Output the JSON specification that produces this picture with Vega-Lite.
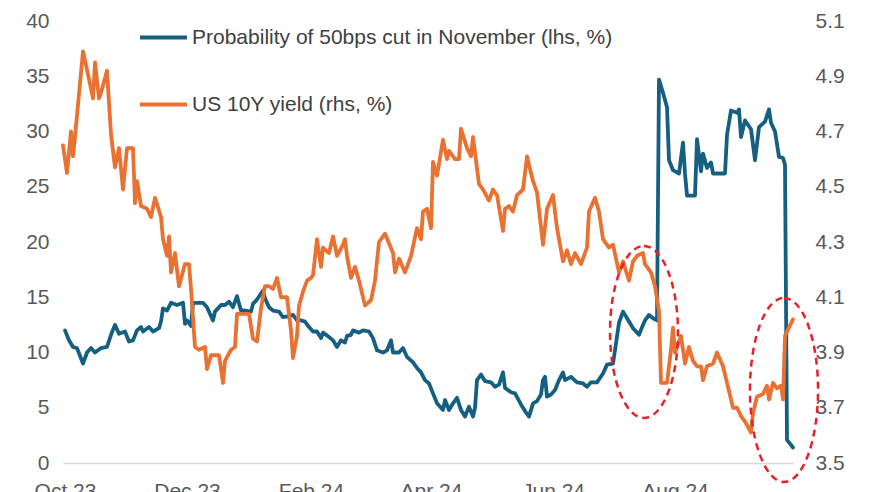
{
  "$schema": "https://vega.github.io/schema/vega-lite/v6.json",
  "width": 730,
  "height": 442,
  "autosize": {"type": "none"},
  "padding": {"left": 63, "top": 21, "right": 77, "bottom": 29},
  "background": "white",
  "config": {
    "view": {"stroke": null},
    "font": "Liberation Sans",
    "axis": {"labelFont": "Liberation Sans", "labelFontSize": 21, "labelColor": "#595959", "grid": false, "ticks": false, "domain": false, "title": null}
  },
  "datasets": {
    "prob": [
      {"date": "2023-10-01", "v": 12.0}, {"date": "2023-10-03", "v": 11.1}, {"date": "2023-10-05", "v": 10.5}, {"date": "2023-10-07", "v": 10.4},
      {"date": "2023-10-10", "v": 9.0}, {"date": "2023-10-12", "v": 10.0}, {"date": "2023-10-14", "v": 10.4}, {"date": "2023-10-16", "v": 10.0},
      {"date": "2023-10-19", "v": 10.4}, {"date": "2023-10-22", "v": 10.5}, {"date": "2023-10-24", "v": 11.6}, {"date": "2023-10-26", "v": 12.5},
      {"date": "2023-10-28", "v": 11.7}, {"date": "2023-10-31", "v": 11.9}, {"date": "2023-11-02", "v": 11.0}, {"date": "2023-11-04", "v": 11.1},
      {"date": "2023-11-06", "v": 12.0}, {"date": "2023-11-08", "v": 12.3}, {"date": "2023-11-09", "v": 11.9}, {"date": "2023-11-12", "v": 12.3},
      {"date": "2023-11-14", "v": 11.9}, {"date": "2023-11-17", "v": 12.2}, {"date": "2023-11-18", "v": 12.8}, {"date": "2023-11-19", "v": 14.0},
      {"date": "2023-11-21", "v": 13.8}, {"date": "2023-11-23", "v": 14.5}, {"date": "2023-11-26", "v": 14.3}, {"date": "2023-11-29", "v": 14.5},
      {"date": "2023-11-30", "v": 12.6}, {"date": "2023-12-01", "v": 12.9}, {"date": "2023-12-03", "v": 12.4}, {"date": "2023-12-04", "v": 14.5},
      {"date": "2023-12-09", "v": 14.5}, {"date": "2023-12-11", "v": 14.1}, {"date": "2023-12-14", "v": 12.9}, {"date": "2023-12-15", "v": 13.7},
      {"date": "2023-12-18", "v": 14.3}, {"date": "2023-12-20", "v": 14.3}, {"date": "2023-12-22", "v": 14.6}, {"date": "2023-12-24", "v": 14.1},
      {"date": "2023-12-26", "v": 15.1}, {"date": "2023-12-28", "v": 13.8}, {"date": "2023-12-30", "v": 13.8}, {"date": "2024-01-02", "v": 13.7},
      {"date": "2024-01-03", "v": 14.4}, {"date": "2024-01-05", "v": 14.8}, {"date": "2024-01-08", "v": 15.6}, {"date": "2024-01-09", "v": 14.9},
      {"date": "2024-01-11", "v": 14.1}, {"date": "2024-01-13", "v": 13.8}, {"date": "2024-01-16", "v": 13.7}, {"date": "2024-01-18", "v": 13.2},
      {"date": "2024-01-21", "v": 13.3}, {"date": "2024-01-23", "v": 13.4}, {"date": "2024-01-25", "v": 12.9}, {"date": "2024-01-27", "v": 12.9},
      {"date": "2024-01-29", "v": 12.8}, {"date": "2024-01-31", "v": 12.3}, {"date": "2024-02-02", "v": 11.9}, {"date": "2024-02-04", "v": 11.9},
      {"date": "2024-02-06", "v": 11.3}, {"date": "2024-02-07", "v": 11.8}, {"date": "2024-02-10", "v": 11.4}, {"date": "2024-02-12", "v": 11.1},
      {"date": "2024-02-14", "v": 10.5}, {"date": "2024-02-16", "v": 11.1}, {"date": "2024-02-18", "v": 10.9}, {"date": "2024-02-19", "v": 11.5},
      {"date": "2024-02-21", "v": 11.6}, {"date": "2024-02-22", "v": 12.0}, {"date": "2024-02-25", "v": 11.8}, {"date": "2024-02-27", "v": 12.0},
      {"date": "2024-03-01", "v": 11.9}, {"date": "2024-03-03", "v": 11.3}, {"date": "2024-03-05", "v": 10.2}, {"date": "2024-03-08", "v": 10.0},
      {"date": "2024-03-10", "v": 10.2}, {"date": "2024-03-12", "v": 11.1}, {"date": "2024-03-13", "v": 10.0}, {"date": "2024-03-16", "v": 10.0},
      {"date": "2024-03-18", "v": 10.4}, {"date": "2024-03-20", "v": 9.6}, {"date": "2024-03-23", "v": 9.1}, {"date": "2024-03-25", "v": 8.6},
      {"date": "2024-03-27", "v": 8.2}, {"date": "2024-03-29", "v": 7.5}, {"date": "2024-03-31", "v": 7.2}, {"date": "2024-04-02", "v": 6.3},
      {"date": "2024-04-04", "v": 5.4}, {"date": "2024-04-07", "v": 4.8}, {"date": "2024-04-08", "v": 5.7}, {"date": "2024-04-10", "v": 4.8},
      {"date": "2024-04-12", "v": 5.4}, {"date": "2024-04-14", "v": 5.9}, {"date": "2024-04-16", "v": 4.8}, {"date": "2024-04-18", "v": 4.2},
      {"date": "2024-04-20", "v": 5.1}, {"date": "2024-04-22", "v": 4.2}, {"date": "2024-04-23", "v": 5.0}, {"date": "2024-04-24", "v": 7.5},
      {"date": "2024-04-26", "v": 8.0}, {"date": "2024-04-28", "v": 7.4}, {"date": "2024-05-01", "v": 7.3}, {"date": "2024-05-03", "v": 6.9},
      {"date": "2024-05-05", "v": 7.1}, {"date": "2024-05-07", "v": 8.2}, {"date": "2024-05-08", "v": 6.8}, {"date": "2024-05-11", "v": 6.4},
      {"date": "2024-05-13", "v": 6.3}, {"date": "2024-05-16", "v": 5.3}, {"date": "2024-05-18", "v": 4.7}, {"date": "2024-05-20", "v": 4.2},
      {"date": "2024-05-22", "v": 5.4}, {"date": "2024-05-24", "v": 5.6}, {"date": "2024-05-26", "v": 6.2}, {"date": "2024-05-27", "v": 7.5},
      {"date": "2024-05-28", "v": 7.8}, {"date": "2024-05-29", "v": 6.0}, {"date": "2024-05-31", "v": 6.2}, {"date": "2024-06-02", "v": 6.6},
      {"date": "2024-06-04", "v": 7.5}, {"date": "2024-06-06", "v": 8.2}, {"date": "2024-06-07", "v": 7.5}, {"date": "2024-06-10", "v": 7.8},
      {"date": "2024-06-13", "v": 7.3}, {"date": "2024-06-16", "v": 7.2}, {"date": "2024-06-18", "v": 6.9}, {"date": "2024-06-20", "v": 7.3},
      {"date": "2024-06-23", "v": 7.3}, {"date": "2024-06-26", "v": 8.1}, {"date": "2024-06-28", "v": 8.9}, {"date": "2024-07-01", "v": 9.0},
      {"date": "2024-07-02", "v": 10.2}, {"date": "2024-07-04", "v": 12.7}, {"date": "2024-07-06", "v": 13.7}, {"date": "2024-07-09", "v": 12.8},
      {"date": "2024-07-11", "v": 12.2}, {"date": "2024-07-14", "v": 11.6}, {"date": "2024-07-16", "v": 12.5}, {"date": "2024-07-17", "v": 12.9},
      {"date": "2024-07-19", "v": 13.4}, {"date": "2024-07-21", "v": 13.1}, {"date": "2024-07-23", "v": 12.9}, {"date": "2024-07-24", "v": 34.7},
      {"date": "2024-07-26", "v": 33.5}, {"date": "2024-07-28", "v": 32.2}, {"date": "2024-07-29", "v": 27.4}, {"date": "2024-07-31", "v": 26.5},
      {"date": "2024-08-03", "v": 26.2}, {"date": "2024-08-05", "v": 29.0}, {"date": "2024-08-06", "v": 26.2}, {"date": "2024-08-07", "v": 24.2},
      {"date": "2024-08-11", "v": 24.2}, {"date": "2024-08-12", "v": 29.3}, {"date": "2024-08-14", "v": 26.4}, {"date": "2024-08-15", "v": 28.0},
      {"date": "2024-08-17", "v": 26.7}, {"date": "2024-08-19", "v": 27.2}, {"date": "2024-08-20", "v": 26.2}, {"date": "2024-08-26", "v": 26.2},
      {"date": "2024-08-27", "v": 29.7}, {"date": "2024-08-29", "v": 31.9}, {"date": "2024-09-01", "v": 31.7}, {"date": "2024-09-02", "v": 32.0},
      {"date": "2024-09-03", "v": 29.5}, {"date": "2024-09-05", "v": 31.0}, {"date": "2024-09-08", "v": 30.2}, {"date": "2024-09-10", "v": 27.4},
      {"date": "2024-09-12", "v": 30.4}, {"date": "2024-09-15", "v": 30.9}, {"date": "2024-09-17", "v": 32.0}, {"date": "2024-09-18", "v": 30.8},
      {"date": "2024-09-20", "v": 30.0}, {"date": "2024-09-22", "v": 27.7}, {"date": "2024-09-24", "v": 27.6}, {"date": "2024-09-25", "v": 27.0},
      {"date": "2024-09-26", "v": 2.1}, {"date": "2024-09-29", "v": 1.4}
    ],
    "yld": [
      {"date": "2023-09-30", "v": 4.65}, {"date": "2023-10-02", "v": 4.55}, {"date": "2023-10-04", "v": 4.70}, {"date": "2023-10-05", "v": 4.61},
      {"date": "2023-10-06", "v": 4.68}, {"date": "2023-10-10", "v": 4.99}, {"date": "2023-10-13", "v": 4.89}, {"date": "2023-10-15", "v": 4.82},
      {"date": "2023-10-16", "v": 4.95}, {"date": "2023-10-18", "v": 4.82}, {"date": "2023-10-19", "v": 4.84}, {"date": "2023-10-22", "v": 4.92},
      {"date": "2023-10-24", "v": 4.69}, {"date": "2023-10-26", "v": 4.57}, {"date": "2023-10-28", "v": 4.64}, {"date": "2023-10-30", "v": 4.49},
      {"date": "2023-11-01", "v": 4.64}, {"date": "2023-11-04", "v": 4.64}, {"date": "2023-11-05", "v": 4.44}, {"date": "2023-11-06", "v": 4.52},
      {"date": "2023-11-08", "v": 4.43}, {"date": "2023-11-11", "v": 4.42}, {"date": "2023-11-13", "v": 4.39}, {"date": "2023-11-15", "v": 4.46},
      {"date": "2023-11-18", "v": 4.39}, {"date": "2023-11-19", "v": 4.31}, {"date": "2023-11-21", "v": 4.25}, {"date": "2023-11-22", "v": 4.32},
      {"date": "2023-11-23", "v": 4.19}, {"date": "2023-11-25", "v": 4.26}, {"date": "2023-11-27", "v": 4.14}, {"date": "2023-11-30", "v": 4.22},
      {"date": "2023-12-02", "v": 4.22}, {"date": "2023-12-03", "v": 4.13}, {"date": "2023-12-05", "v": 3.92}, {"date": "2023-12-07", "v": 3.91},
      {"date": "2023-12-10", "v": 3.92}, {"date": "2023-12-11", "v": 3.84}, {"date": "2023-12-13", "v": 3.89}, {"date": "2023-12-17", "v": 3.89},
      {"date": "2023-12-19", "v": 3.79}, {"date": "2023-12-20", "v": 3.87}, {"date": "2023-12-23", "v": 3.91}, {"date": "2023-12-25", "v": 3.92},
      {"date": "2023-12-26", "v": 4.04}, {"date": "2023-12-29", "v": 4.04}, {"date": "2024-01-01", "v": 4.04}, {"date": "2024-01-03", "v": 3.95},
      {"date": "2024-01-05", "v": 3.94}, {"date": "2024-01-07", "v": 4.06}, {"date": "2024-01-09", "v": 4.14}, {"date": "2024-01-11", "v": 4.14},
      {"date": "2024-01-13", "v": 4.13}, {"date": "2024-01-15", "v": 4.17}, {"date": "2024-01-17", "v": 4.10}, {"date": "2024-01-20", "v": 4.10},
      {"date": "2024-01-22", "v": 3.98}, {"date": "2024-01-23", "v": 3.88}, {"date": "2024-01-25", "v": 3.96}, {"date": "2024-01-26", "v": 4.07},
      {"date": "2024-01-28", "v": 4.12}, {"date": "2024-01-30", "v": 4.16}, {"date": "2024-02-01", "v": 4.17}, {"date": "2024-02-02", "v": 4.18},
      {"date": "2024-02-04", "v": 4.31}, {"date": "2024-02-06", "v": 4.21}, {"date": "2024-02-07", "v": 4.28}, {"date": "2024-02-10", "v": 4.26},
      {"date": "2024-02-12", "v": 4.32}, {"date": "2024-02-14", "v": 4.25}, {"date": "2024-02-17", "v": 4.29}, {"date": "2024-02-18", "v": 4.31},
      {"date": "2024-02-19", "v": 4.25}, {"date": "2024-02-21", "v": 4.17}, {"date": "2024-02-23", "v": 4.21}, {"date": "2024-02-25", "v": 4.16},
      {"date": "2024-02-28", "v": 4.07}, {"date": "2024-03-02", "v": 4.09}, {"date": "2024-03-04", "v": 4.16}, {"date": "2024-03-06", "v": 4.30},
      {"date": "2024-03-09", "v": 4.33}, {"date": "2024-03-13", "v": 4.26}, {"date": "2024-03-14", "v": 4.19}, {"date": "2024-03-16", "v": 4.24},
      {"date": "2024-03-19", "v": 4.19}, {"date": "2024-03-22", "v": 4.25}, {"date": "2024-03-25", "v": 4.35}, {"date": "2024-03-27", "v": 4.31},
      {"date": "2024-03-28", "v": 4.41}, {"date": "2024-03-30", "v": 4.42}, {"date": "2024-04-01", "v": 4.35}, {"date": "2024-04-02", "v": 4.59},
      {"date": "2024-04-04", "v": 4.54}, {"date": "2024-04-07", "v": 4.67}, {"date": "2024-04-09", "v": 4.60}, {"date": "2024-04-10", "v": 4.63},
      {"date": "2024-04-13", "v": 4.60}, {"date": "2024-04-15", "v": 4.60}, {"date": "2024-04-16", "v": 4.71}, {"date": "2024-04-19", "v": 4.64},
      {"date": "2024-04-21", "v": 4.61}, {"date": "2024-04-22", "v": 4.68}, {"date": "2024-04-25", "v": 4.51}, {"date": "2024-04-27", "v": 4.49},
      {"date": "2024-04-30", "v": 4.45}, {"date": "2024-05-02", "v": 4.49}, {"date": "2024-05-04", "v": 4.47}, {"date": "2024-05-07", "v": 4.34},
      {"date": "2024-05-08", "v": 4.42}, {"date": "2024-05-10", "v": 4.43}, {"date": "2024-05-12", "v": 4.41}, {"date": "2024-05-14", "v": 4.47},
      {"date": "2024-05-17", "v": 4.49}, {"date": "2024-05-19", "v": 4.61}, {"date": "2024-05-22", "v": 4.52}, {"date": "2024-05-24", "v": 4.48},
      {"date": "2024-05-27", "v": 4.29}, {"date": "2024-05-29", "v": 4.42}, {"date": "2024-06-01", "v": 4.47}, {"date": "2024-06-03", "v": 4.35},
      {"date": "2024-06-06", "v": 4.23}, {"date": "2024-06-08", "v": 4.27}, {"date": "2024-06-10", "v": 4.22}, {"date": "2024-06-12", "v": 4.26},
      {"date": "2024-06-15", "v": 4.22}, {"date": "2024-06-18", "v": 4.28}, {"date": "2024-06-19", "v": 4.41}, {"date": "2024-06-22", "v": 4.46},
      {"date": "2024-06-24", "v": 4.41}, {"date": "2024-06-26", "v": 4.31}, {"date": "2024-06-29", "v": 4.28}, {"date": "2024-07-01", "v": 4.29},
      {"date": "2024-07-04", "v": 4.19}, {"date": "2024-07-06", "v": 4.23}, {"date": "2024-07-09", "v": 4.16}, {"date": "2024-07-11", "v": 4.23},
      {"date": "2024-07-13", "v": 4.25}, {"date": "2024-07-16", "v": 4.26}, {"date": "2024-07-17", "v": 4.22}, {"date": "2024-07-20", "v": 4.19},
      {"date": "2024-07-22", "v": 4.14}, {"date": "2024-07-24", "v": 4.05}, {"date": "2024-07-25", "v": 3.79}, {"date": "2024-07-28", "v": 3.79},
      {"date": "2024-07-30", "v": 3.91}, {"date": "2024-07-31", "v": 3.99}, {"date": "2024-08-01", "v": 3.90}, {"date": "2024-08-04", "v": 3.96},
      {"date": "2024-08-06", "v": 3.86}, {"date": "2024-08-08", "v": 3.92}, {"date": "2024-08-10", "v": 3.87}, {"date": "2024-08-12", "v": 3.85},
      {"date": "2024-08-14", "v": 3.85}, {"date": "2024-08-15", "v": 3.80}, {"date": "2024-08-17", "v": 3.85}, {"date": "2024-08-20", "v": 3.86},
      {"date": "2024-08-22", "v": 3.90}, {"date": "2024-08-25", "v": 3.85}, {"date": "2024-08-27", "v": 3.79}, {"date": "2024-08-30", "v": 3.70},
      {"date": "2024-09-01", "v": 3.70}, {"date": "2024-09-03", "v": 3.67}, {"date": "2024-09-05", "v": 3.65}, {"date": "2024-09-08", "v": 3.61},
      {"date": "2024-09-09", "v": 3.68}, {"date": "2024-09-11", "v": 3.74}, {"date": "2024-09-14", "v": 3.75}, {"date": "2024-09-16", "v": 3.78},
      {"date": "2024-09-17", "v": 3.73}, {"date": "2024-09-19", "v": 3.79}, {"date": "2024-09-21", "v": 3.77}, {"date": "2024-09-23", "v": 3.78},
      {"date": "2024-09-24", "v": 3.73}, {"date": "2024-09-25", "v": 3.96}, {"date": "2024-09-27", "v": 3.99}, {"date": "2024-09-29", "v": 4.02}
    ],
    "ring1": [{"date": "2024-07-16T12:00:00", "v": 11.86}],
    "ring2": [{"date": "2024-09-24T12:00:00", "v": 6.61}]
  },
  "layer": [
    {
      "data": {"name": "prob"},
      "mark": {"type": "line", "strokeWidth": 3.8, "strokeJoin": "round", "strokeCap": "round"},
      "encoding": {
        "x": {
          "field": "date", "type": "temporal",
          "scale": {"domain": [{"year": 2023, "month": "sep", "date": 30}, {"year": 2024, "month": "sep", "date": 29}]},
          "axis": {
            "values": [
              {"year": 2023, "month": "oct", "date": 1}, {"year": 2023, "month": "dec", "date": 1},
              {"year": 2024, "month": "feb", "date": 1}, {"year": 2024, "month": "apr", "date": 1},
              {"year": 2024, "month": "jun", "date": 1}, {"year": 2024, "month": "aug", "date": 1}
            ],
            "format": "%b %y", "labelFlush": false, "labelPadding": 17, "labelOverlap": false,
            "domain": true, "domainColor": "#D9D9D9", "domainWidth": 1.5
          }
        },
        "y": {
          "field": "v", "type": "quantitative",
          "scale": {"domain": [0, 40]},
          "axis": {"orient": "left", "values": [0, 5, 10, 15, 20, 25, 30, 35, 40], "labelPadding": 14}
        },
        "color": {
          "datum": "Probability of 50bps cut in November (lhs, %)", "type": "nominal",
          "scale": {"domain": ["Probability of 50bps cut in November (lhs, %)", "US 10Y yield (rhs, %)"], "range": ["#156082", "#E97132"]},
          "legend": {
            "orient": "none", "legendX": 75, "legendY": -9, "direction": "vertical", "title": null,
            "symbolType": "stroke", "symbolSize": 2209, "symbolStrokeWidth": 3.8,
            "labelFont": "Liberation Sans", "labelFontSize": 21, "labelColor": "#404040",
            "labelOffset": 3, "rowPadding": 31, "labelLimit": 700
          }
        }
      }
    },
    {
      "data": {"name": "yld"},
      "mark": {"type": "line", "strokeWidth": 3.8, "strokeJoin": "round", "strokeCap": "round"},
      "encoding": {
        "x": {"field": "date", "type": "temporal"},
        "y": {
          "field": "v", "type": "quantitative",
          "scale": {"domain": [3.5, 5.1], "zero": false},
          "axis": {"orient": "right", "values": [3.5, 3.7, 3.9, 4.1, 4.3, 4.5, 4.7, 4.9, 5.1], "format": ".1f", "labelPadding": 22}
        },
        "color": {"datum": "US 10Y yield (rhs, %)", "type": "nominal"}
      }
    },
    {
      "data": {"name": "ring1"},
      "mark": {"type": "point", "shape": "M0,-1 C0.218,-1 0.395,-0.552 0.395,0 C0.395,0.552 0.218,1 0,1 C-0.218,1 -0.395,0.552 -0.395,0 C-0.395,-0.552 -0.218,-1 0,-1 Z", "size": 29584, "filled": false, "stroke": "#E8202A", "strokeWidth": 2.5, "strokeDash": [7, 5], "opacity": 1},
      "encoding": {
        "x": {"field": "date", "type": "temporal"},
        "y": {"field": "v", "type": "quantitative", "scale": {"domain": [0, 40]}, "axis": null}
      }
    },
    {
      "data": {"name": "ring2"},
      "mark": {"type": "point", "shape": "M0,-1 C0.204,-1 0.37,-0.552 0.37,0 C0.37,0.552 0.204,1 0,1 C-0.204,1 -0.37,0.552 -0.37,0 C-0.37,-0.552 -0.204,-1 0,-1 Z", "size": 33856, "filled": false, "stroke": "#E8202A", "strokeWidth": 2.5, "strokeDash": [7, 5], "opacity": 1},
      "encoding": {
        "x": {"field": "date", "type": "temporal"},
        "y": {"field": "v", "type": "quantitative", "scale": {"domain": [0, 40]}, "axis": null}
      }
    }
  ],
  "resolve": {"scale": {"y": "independent"}}
}
